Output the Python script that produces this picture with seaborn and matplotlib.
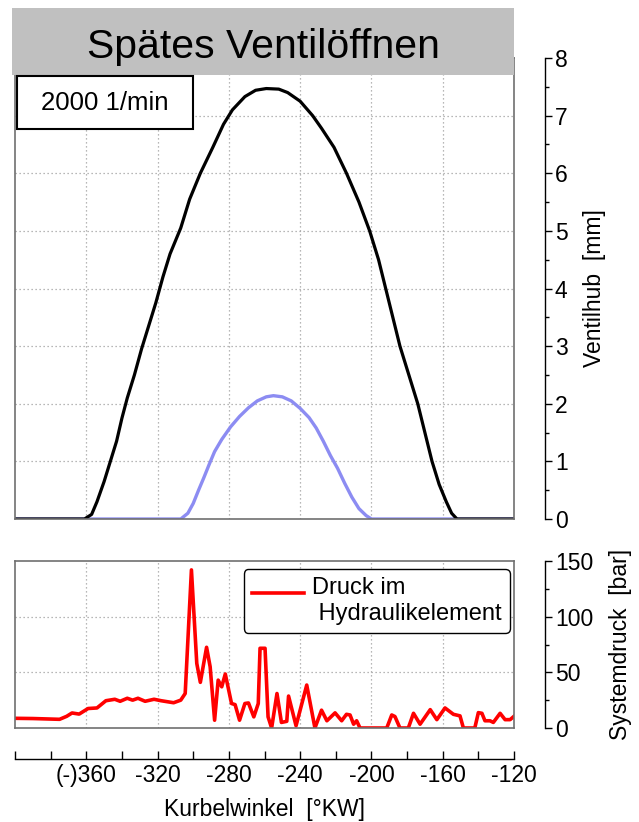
import numpy as np
import pandas as pd
import matplotlib
matplotlib.use("Agg")
import matplotlib.pyplot as plt
import seaborn as sns
from matplotlib.patches import Rectangle
from matplotlib.ticker import MultipleLocator

plt.rcParams['font.family'] = ['Liberation Sans', 'DejaVu Sans']

# ---------------- data ----------------
lift_angle = [-400, -361, -357, -354, -350, -347, -343, -340, -337, -333, -329, -325, -321,
              -317, -313, -307, -302, -296, -289, -283, -278, -271, -265, -259, -252, -247,
              -240, -233, -228, -221, -214, -207, -201, -196, -192, -188, -184, -179, -174,
              -170, -166, -162, -158, -155, -152, -120]
lift_black = [0, 0, 0.08, 0.3, 0.65, 0.95, 1.35, 1.75, 2.1, 2.5, 2.95, 3.35, 3.75,
              4.2, 4.6, 5.05, 5.55, 6.0, 6.45, 6.85, 7.1, 7.33, 7.44, 7.47, 7.46, 7.4,
              7.25, 7.0, 6.78, 6.45, 6.0, 5.5, 5.0, 4.5, 4.0, 3.5, 3.0, 2.5, 2.0,
              1.5, 1.0, 0.6, 0.3, 0.1, 0.0, 0.0]

blue_angle = [-400, -307, -303, -300, -297, -294, -291, -288, -284, -279, -274, -269, -264,
              -259, -255, -250, -245, -240, -235, -231, -227, -223, -219, -215, -211, -207,
              -203, -200, -120]
lift_blue = [0, 0, 0.1, 0.27, 0.5, 0.72, 0.95, 1.17, 1.38, 1.6, 1.78, 1.93, 2.05,
             2.12, 2.14, 2.12, 2.05, 1.92, 1.76, 1.58, 1.35, 1.1, 0.88, 0.62, 0.38, 0.18,
             0.06, 0.0, 0.0]

p_angle = [-400, -390, -375, -371, -368, -364, -359, -354, -349, -344, -341, -337, -334,
           -331, -327, -322, -318, -311, -307, -304.5, -301, -298, -296, -292.5, -290.5,
           -288, -286, -284, -282, -278.5, -276.5, -274, -271, -269, -266, -263.5, -262.5,
           -259.7, -258, -256, -253, -250.5, -247.5, -246.5, -242.3, -236.3, -231.7, -228,
           -225, -220.4, -216.7, -214, -212, -210, -208.3, -206.4, -191.4, -188.6, -186.8,
           -184, -179.3, -176.4, -172.7, -167, -163.3, -158.7, -154, -150.3, -148.4, -142,
           -140, -138, -136.3, -133.5, -131.6, -127.8, -125, -122.2, -120]
pressure = [8.7, 8.5, 7.8, 10.5, 13.5, 12.5, 17.5, 18, 24.5, 25.8, 24, 26.7, 25,
            26.7, 24, 25.8, 24.5, 22.7, 25, 31, 142, 58, 41, 72.5, 55,
            7, 43, 37, 48.5, 22, 21, 7, 22, 22.5, 10, 22, 71.6,
            71.6, 10, 0, 31, 5, 6, 28.7, 2, 38.6, 0, 16,
            6.5, 13.6, 6.5, 12.3, 11.7, 3.4, 6.5, 0, 0, 11.7, 10.3,
            0, 0, 13.2, 3.4, 16.5, 7.5, 18, 12.3, 10.9, 0, 0,
            13.8, 13.2, 6.5, 6.5, 5, 13.2, 7.5, 7.5, 10.5]

x_ticks = [-360, -320, -280, -240, -200, -160, -120]
x_ticklabels = ['(-)360', '-320', '-280', '-240', '-200', '-160', '-120']
grid_x = [-360, -320, -280, -240, -200, -160]

df_black = pd.DataFrame({'angle': lift_angle, 'lift': lift_black})
df_blue = pd.DataFrame({'angle': blue_angle, 'lift': lift_blue})
df_p = pd.DataFrame({'angle': p_angle, 'p': pressure})

# ---------------- figure ----------------
W, H = 639, 822
fig = plt.figure(figsize=(W / 100, H / 100), dpi=100)

def fx(px):
    return px / W

def fy(py):
    return 1 - py / H

ax1 = fig.add_axes([fx(15), fy(519), fx(514) - fx(15), fy(58) - fy(519)])
ax2 = fig.add_axes([fx(15), fy(728), fx(514) - fx(15), fy(561) - fy(728)])

grid_kw = dict(color='#a0a0a0', linestyle=(0, (1, 2.2)), linewidth=0.9)
spine_col = '#707070'

# top panel
sns.lineplot(data=df_blue, x='angle', y='lift', ax=ax1, color='#8c8cf2', linewidth=2.4)
sns.lineplot(data=df_black, x='angle', y='lift', ax=ax1, color='black', linewidth=2.3)
ax1.set_xlim(-400, -120)
ax1.set_ylim(0, 8)
ax1.set_xticks(grid_x)
ax1.set_yticks(range(1, 8))
ax1.tick_params(length=0, labelbottom=False, labelleft=False)
ax1.grid(True, **grid_kw)
ax1.set_xlabel('')
ax1.set_ylabel('')
for s in ax1.spines.values():
    s.set_color(spine_col)
    s.set_linewidth(1.2)

r1 = ax1.twinx()
r1.set_ylim(0, 8)
for s in ['top', 'left', 'bottom']:
    r1.spines[s].set_visible(False)
r1.spines['right'].set_position(('outward', 22))
r1.spines['right'].set_linewidth(1)
r1.set_yticks(range(0, 9))
r1.yaxis.set_minor_locator(MultipleLocator(0.5))
r1.tick_params(axis='y', which='major', length=5, width=1, pad=2.5, labelsize=16.5)
r1.tick_params(axis='y', which='minor', length=3, width=1)
r1.set_ylabel('Ventilhub  [mm]', fontsize=16.5, labelpad=11)

# bottom panel
sns.lineplot(data=df_p, x='angle', y='p', ax=ax2, color='#ff0000', linewidth=2.6,
             label='Druck im\n Hydraulikelement')
ax2.set_xlim(-400, -120)
ax2.set_ylim(0, 150)
ax2.set_xticks(grid_x)
ax2.set_yticks([50, 100])
ax2.tick_params(length=0, labelbottom=False, labelleft=False)
ax2.grid(True, **grid_kw)
ax2.set_xlabel('')
ax2.set_ylabel('')
for s in ax2.spines.values():
    s.set_color(spine_col)
    s.set_linewidth(1.2)

leg = ax2.legend(loc='upper right', bbox_to_anchor=(0.992, 0.952), borderaxespad=0,
                 fontsize=17, frameon=True, fancybox=True, framealpha=1,
                 edgecolor='black', handlelength=2.2, handletextpad=0.35, borderpad=0.35)
leg.get_frame().set_linewidth(1)
hl = leg.get_lines()[0]
hl.set_ydata(np.asarray(hl.get_ydata(), dtype=float) + 6)

r2 = ax2.twinx()
r2.set_ylim(0, 150)
for s in ['top', 'left', 'bottom']:
    r2.spines[s].set_visible(False)
r2.spines['right'].set_position(('outward', 22))
r2.spines['right'].set_linewidth(1)
r2.set_yticks([0, 50, 100, 150])
r2.yaxis.set_minor_locator(MultipleLocator(25))
r2.tick_params(axis='y', which='major', length=5, width=1, pad=2.5, labelsize=16.5)
r2.tick_params(axis='y', which='minor', length=3, width=1)
r2.set_ylabel('Systemdruck  [bar]', fontsize=16.5, labelpad=11)

t2 = ax2.twiny()
t2.set_xlim(-400, -120)
t2.xaxis.set_ticks_position('bottom')
t2.xaxis.set_label_position('bottom')
for s in ['top', 'left', 'right']:
    t2.spines[s].set_visible(False)
t2.spines['bottom'].set_visible(True)
t2.spines['bottom'].set_position(('outward', 22))
t2.spines['bottom'].set_linewidth(1)
t2.set_xticks(x_ticks)
t2.set_xticklabels(x_ticklabels)
t2.xaxis.set_minor_locator(MultipleLocator(20))
t2.tick_params(axis='x', which='both', direction='in', length=5.5, width=1, pad=4,
               labelsize=16.5)
t2.set_xlabel('Kurbelwinkel  [°KW]', fontsize=16.5, labelpad=8)

# title band
fig.add_artist(Rectangle((fx(12), fy(75)), fx(514) - fx(12), fy(8) - fy(75),
                         transform=fig.transFigure, facecolor='#c0c0c0',
                         edgecolor='none', zorder=10))
fig.text(fx(263), fy(58), 'Spätes Ventilöffnen', ha='center', va='baseline',
         fontsize=29.5, zorder=11)

# speed box
fig.add_artist(Rectangle((fx(17), fy(129)), fx(193) - fx(17), fy(76) - fy(129),
                         transform=fig.transFigure, facecolor='white',
                         edgecolor='black', linewidth=1.5, zorder=10))
fig.text(fx(105), fy(110), '2000 1/min', ha='center', va='baseline',
         fontsize=18.5, zorder=11)

fig.savefig('out.png', dpi=100)
